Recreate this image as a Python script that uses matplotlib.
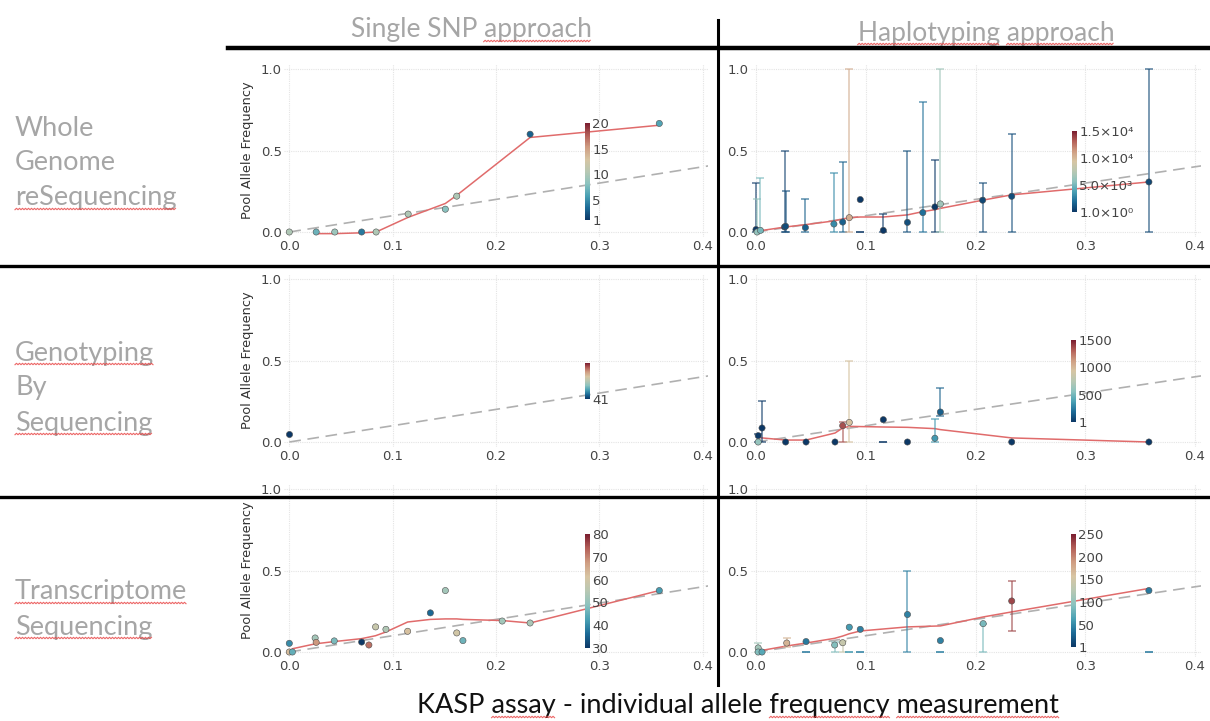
import numpy as np
import matplotlib
matplotlib.use("Agg")
import matplotlib.pyplot as plt
from matplotlib.colors import LinearSegmentedColormap, Normalize
from matplotlib.cm import ScalarMappable
from matplotlib.lines import Line2D
from matplotlib.transforms import IdentityTransform

W, H = 1210, 721

# ---------------- data ----------------
# Whole genome resequencing - single SNP
wgs_snp_x = [0.000, 0.026, 0.044, 0.070, 0.084, 0.115, 0.151, 0.162, 0.233, 0.358]
wgs_snp_y = [0.000, 0.000, 0.000, 0.000, 0.000, 0.110, 0.140, 0.220, 0.600, 0.666]
wgs_snp_depth = [10, 7, 9, 4, 10, 10, 8, 10, 3, 6]
wgs_snp_fit_x = [0.026, 0.044, 0.070, 0.084, 0.115, 0.151, 0.162, 0.233, 0.358]
wgs_snp_fit_y = [-0.010, -0.010, -0.005, 0.000, 0.090, 0.175, 0.225, 0.580, 0.655]

# Whole genome resequencing - haplotyping
wgs_hap_x = [0.000, 0.001, 0.004, 0.026, 0.027, 0.045, 0.071, 0.079, 0.085, 0.095,
             0.116, 0.138, 0.152, 0.163, 0.168, 0.2065, 0.233, 0.358]
wgs_hap_y = [0.015, 0.000, 0.010, 0.031, 0.035, 0.027, 0.049, 0.061, 0.088, 0.199,
             0.010, 0.059, 0.119, 0.154, 0.172, 0.195, 0.219, 0.307]
wgs_hap_depth = [1, 6000, 5000, 300, 800, 1500, 3000, 1500, 10500, 1,
                 1, 900, 2000, 1, 6500, 600, 800, 600]
wgs_hap_lo = [0, 0, 0, 0, 0, 0, 0, 0, 0, 0, 0, 0, 0, 0, 0, 0, 0, 0]
wgs_hap_hi = [0.30, 0.20, 0.33, 0.50, 0.25, 0.20, 0.36, 0.43, 1.00, 0.00,
              0.11, 0.50, 0.80, 0.44, 1.00, 0.30, 0.60, 1.00]
wgs_hap_fit_y = [0.005, 0.006, 0.008, 0.030, 0.031, 0.045, 0.068, 0.080, 0.088, 0.092,
                 0.092, 0.105, 0.125, 0.137, 0.145, 0.195, 0.228, 0.307]

# Genotyping by sequencing - single SNP
gbs_snp_x = [0.000]
gbs_snp_y = [0.049]
gbs_snp_depth = [41]

# Genotyping by sequencing - haplotyping
gbs_hap_x = [0.002, 0.002, 0.0055, 0.027, 0.0456, 0.072, 0.079, 0.085, 0.116, 0.138,
             0.163, 0.168, 0.233, 0.358]
gbs_hap_y = [0.039, 0.000, 0.086, 0.000, 0.000, 0.000, 0.100, 0.120, 0.137, 0.000,
             0.023, 0.184, 0.000, 0.000]
gbs_hap_depth = [1, 600, 1, 1, 1, 1, 1350, 950, 1, 1, 350, 150, 1, 1]
gbs_hap_lo = [0, np.nan, 0, np.nan, np.nan, np.nan, 0, 0, 0, np.nan, 0, 0.16, np.nan, np.nan]
gbs_hap_hi = [0.05, np.nan, 0.25, np.nan, np.nan, np.nan, 0.12, 0.50, 0.0, np.nan,
              0.14, 0.33, np.nan, np.nan]
gbs_hap_fit_y = [0.030, 0.030, 0.025, 0.012, 0.012, 0.055, 0.086, 0.096, 0.092, 0.090,
                 0.082, 0.076, 0.025, 0.000]

# Transcriptome sequencing - single SNP
rna_snp_x = [0.000, 0.000, 0.003, 0.025, 0.026, 0.0435, 0.070, 0.077, 0.0835, 0.0935,
             0.1145, 0.1365, 0.151, 0.162, 0.168, 0.206, 0.233, 0.358]
rna_snp_y = [0.053, 0.000, 0.000, 0.086, 0.059, 0.068, 0.061, 0.043, 0.154, 0.139,
             0.127, 0.240, 0.377, 0.117, 0.070, 0.190, 0.178, 0.377]
rna_snp_depth = [40, 63, 45, 52, 68, 47, 30, 72, 58, 54, 62, 36, 52, 60, 46, 52, 53, 42]
rna_snp_fit_x = [0.003, 0.025, 0.0435, 0.070, 0.0835, 0.0935, 0.1145, 0.1365, 0.151,
                 0.162, 0.168, 0.206, 0.233, 0.358]
rna_snp_fit_y = [0.020, 0.050, 0.064, 0.082, 0.100, 0.123, 0.184, 0.200, 0.203,
                 0.203, 0.200, 0.193, 0.178, 0.377]

# Transcriptome sequencing - haplotyping
rna_hap_x = [0.002, 0.002, 0.0055, 0.028, 0.0456, 0.0717, 0.079, 0.085, 0.095, 0.138,
             0.168, 0.207, 0.233, 0.358]
rna_hap_y = [0.025, 0.000, 0.000, 0.055, 0.064, 0.043, 0.057, 0.152, 0.139, 0.230,
             0.070, 0.174, 0.313, 0.377]
rna_hap_depth = [110, 90, 70, 170, 40, 90, 140, 60, 45, 45, 45, 85, 230, 40]
rna_hap_lo = [0, np.nan, np.nan, 0.03, 0, 0, 0, 0, 0, 0, 0, 0, 0.127, 0]
rna_hap_hi = [0.055, np.nan, np.nan, 0.088, 0, 0.06, 0.07, 0, 0, 0.50, 0, 0.174, 0.437, 0]
rna_hap_fit_y = [0.008, 0.008, 0.010, 0.037, 0.055, 0.084, 0.098, 0.112, 0.129, 0.154,
                 0.160, 0.215, 0.246, 0.390]

row_labels = [["Whole", "Genome", "reSequencing"],
              ["Genotyping", "By", "Sequencing"],
              ["Transcriptome", "Sequencing"]]
col_labels = ["Single SNP approach", "Haplotyping approach"]
x_title = "KASP assay - individual allele frequency measurement"

# ---------------- style ----------------
depth_cmap = LinearSegmentedColormap.from_list(
    "depth", ["#0c3866", "#1c6b97", "#4aa1b4", "#8cc3bf", "#b8c8b3",
              "#d7c5a3", "#cf9d82", "#b45f58", "#7a1d2f"])
FIT = "#e06b6b"
GREY_TXT = "#a6a6a6"
XLIM = (-0.005, 0.4055)
YLIM = (-0.03, 1.03)

fig = plt.figure(figsize=(W / 100, H / 100), dpi=100)
fig.patch.set_facecolor("white")


def fpx(x, y):
    return x / W, 1 - y / H


def place(x0, x4, y0, y1):
    # x0/x4: pixel column of x=0 and x=0.4, y0/y1: pixel row of y=0 and y=1
    sx = (x4 - x0) / 0.4
    sy = y0 - y1
    left = x0 + XLIM[0] * sx
    right = x0 + XLIM[1] * sx
    bottom = y0 - YLIM[0] * sy
    top = y0 - YLIM[1] * sy
    return [left / W, 1 - bottom / H, (right - left) / W, (bottom - top) / H]


def panel(rect, x, y, depth, norm, fit_x=None, fit_y=None, lo=None, hi=None):
    ax = fig.add_axes(rect)
    ax.set_xlim(*XLIM)
    ax.set_ylim(*YLIM)
    ax.set_xticks([0, 0.1, 0.2, 0.3, 0.4])
    ax.set_yticks([0, 0.5, 1.0])
    ax.xaxis.set_major_formatter(plt.FormatStrFormatter("%.1f"))
    ax.yaxis.set_major_formatter(plt.FormatStrFormatter("%.1f"))
    ax.tick_params(length=0, labelsize=9.5, labelcolor="#444444")
    ax.tick_params(axis="y", pad=1.5)
    ax.tick_params(axis="x", pad=2.5)
    for s in ax.spines.values():
        s.set_visible(False)
    ax.grid(color="#e4e4e4", linestyle=(0, (1, 1)), linewidth=0.8)
    ax.set_axisbelow(True)

    ax.plot([0, XLIM[1]], [0, XLIM[1]], color="#b0b0b0", lw=1.2,
            dashes=(7, 4), zorder=2)
    if fit_x is not None:
        ax.plot(fit_x, fit_y, color=FIT, lw=1.1, zorder=3)
    if lo is not None:
        for xi, l, h, d in zip(x, lo, hi, depth):
            if np.isnan(l):
                continue
            col = depth_cmap(norm(d))
            ax.vlines(xi, l, h, colors=[col], lw=1.1, alpha=0.7, zorder=3)
            ax.plot([xi, xi], [l, h], ls="none", marker="_", ms=5.5, mew=1.1,
                    color=col, alpha=0.7, zorder=3)
    ax.scatter(x, y, c=depth, cmap=depth_cmap, norm=norm, s=20,
               edgecolors="#505050", linewidths=0.4, zorder=4)
    return ax


def colorbar(norm, x0, x1, y_top, y_bot, ticks, labels=None):
    l, b = fpx(x0, y_bot)
    cax = fig.add_axes([l, b, (x1 - x0) / W, (y_bot - y_top) / H])
    cb = fig.colorbar(ScalarMappable(norm=norm, cmap=depth_cmap), cax=cax, ticks=ticks)
    cb.outline.set_visible(False)
    if labels is not None:
        cb.set_ticklabels(labels)
    cax.tick_params(length=0, labelsize=9.5, labelcolor="#444444", pad=1.5)
    return cb


LEFT = (289.3, 702.7)
RIGHT = (756.0, 1195.0)
ROWS = [(232, 69), (442, 279), (652, 489)]

n_tl = Normalize(1, 20)
n_tr = Normalize(1, 15000)
n_ml = Normalize(41, 42)
n_mr = Normalize(1, 1500)
n_bl = Normalize(30, 80)
n_br = Normalize(1, 250)

panel(place(*LEFT, *ROWS[0]), wgs_snp_x, wgs_snp_y, wgs_snp_depth, n_tl,
      wgs_snp_fit_x, wgs_snp_fit_y)
panel(place(*RIGHT, *ROWS[0]), wgs_hap_x, wgs_hap_y, wgs_hap_depth, n_tr,
      wgs_hap_x, wgs_hap_fit_y, wgs_hap_lo, wgs_hap_hi)
panel(place(*LEFT, *ROWS[1]), gbs_snp_x, gbs_snp_y, gbs_snp_depth, n_ml)
panel(place(*RIGHT, *ROWS[1]), gbs_hap_x, gbs_hap_y, gbs_hap_depth, n_mr,
      gbs_hap_x, gbs_hap_fit_y, gbs_hap_lo, gbs_hap_hi)
panel(place(*LEFT, *ROWS[2]), rna_snp_x, rna_snp_y, rna_snp_depth, n_bl,
      rna_snp_fit_x, rna_snp_fit_y)
panel(place(*RIGHT, *ROWS[2]), rna_hap_x, rna_hap_y, rna_hap_depth, n_br,
      rna_hap_x, rna_hap_fit_y, rna_hap_lo, rna_hap_hi)

colorbar(n_tl, 585, 590, 123, 220, [1, 5, 10, 15, 20])
colorbar(n_tr, 1072, 1077, 131, 212, [1, 5000, 10000, 15000],
         ["1.0×10⁰", "5.0×10³", "1.0×10⁴", "1.5×10⁴"])
colorbar(n_ml, 585, 590, 363, 399, [41])
colorbar(n_mr, 1071, 1076, 340, 422, [1, 500, 1000, 1500])
colorbar(n_bl, 585, 590, 534, 648, [30, 40, 50, 60, 70, 80])
colorbar(n_br, 1071, 1076, 534, 647, [1, 50, 100, 150, 200, 250])

# y axis titles on the left column
for y0, y1 in ROWS:
    fig.text(*fpx(247, (y0 + y1) / 2), "Pool Allele Frequency", rotation=90,
             ha="center", va="center", fontsize=9.3, color="#333333")

# slide frame lines
for xs, ys, lw in [((228, W), (48, 48), 3.2),
                   ((0, W), (266, 266), 2.4),
                   ((0, W), (497, 497), 2.4),
                   ((718, 718), (20, 685), 2.2)]:
    p0, p1 = fpx(xs[0], ys[0]), fpx(xs[1], ys[1])
    fig.add_artist(Line2D([p0[0], p1[0]], [p0[1], p1[1]], color="black", lw=lw,
                          transform=fig.transFigure, zorder=10))

FONT = "Lato"
texts = []
texts.append((fig.text(*fpx(471, 30), col_labels[0], ha="center", va="center",
                       fontsize=19, color=GREY_TXT, family=FONT), ["approach"]))
texts.append((fig.text(*fpx(986, 33), col_labels[1], ha="center", va="center",
                       fontsize=19, color=GREY_TXT, family=FONT),
              ["Haplotyping", "approach"]))
for lines, y_first in zip(row_labels, [128, 353, 592]):
    for k, line in enumerate(lines):
        t = fig.text(*fpx(15, y_first + 35 * k), line, ha="left", va="center",
                     fontsize=19.5, color=GREY_TXT, family=FONT)
        if line in ("reSequencing", "Genotyping", "Sequencing", "Transcriptome"):
            texts.append((t, [line]))
texts.append((fig.text(*fpx(738, 706), x_title, ha="center", va="center",
                       fontsize=19.5, color="#111111", family=FONT),
              ["assay", "frequency", "measurement"]))

# red spell-check squiggles under flagged words
fig.canvas.draw()
renderer = fig.canvas.get_renderer()


def text_width(s, t):
    tmp = fig.text(0, 0, s, fontsize=t.get_fontsize(), family=t.get_fontfamily())
    w = tmp.get_window_extent(renderer).width
    tmp.remove()
    return w


for t, words in texts:
    s = t.get_text()
    bb = t.get_window_extent(renderer)
    for word in words:
        i = s.index(word)
        x1 = bb.x0 + text_width(s[:i + len(word)], t)
        x0 = x1 - text_width(word, t)
        xs = np.arange(x0, x1, 1.5)
        ys = bb.y0 + 1.5 + np.where(np.arange(len(xs)) % 2 == 0, -0.7, 0.7)
        fig.add_artist(Line2D(xs, ys, color="#e84040", lw=0.8, alpha=0.8,
                              transform=IdentityTransform(), zorder=11))

fig.savefig("out.png", dpi=100)
